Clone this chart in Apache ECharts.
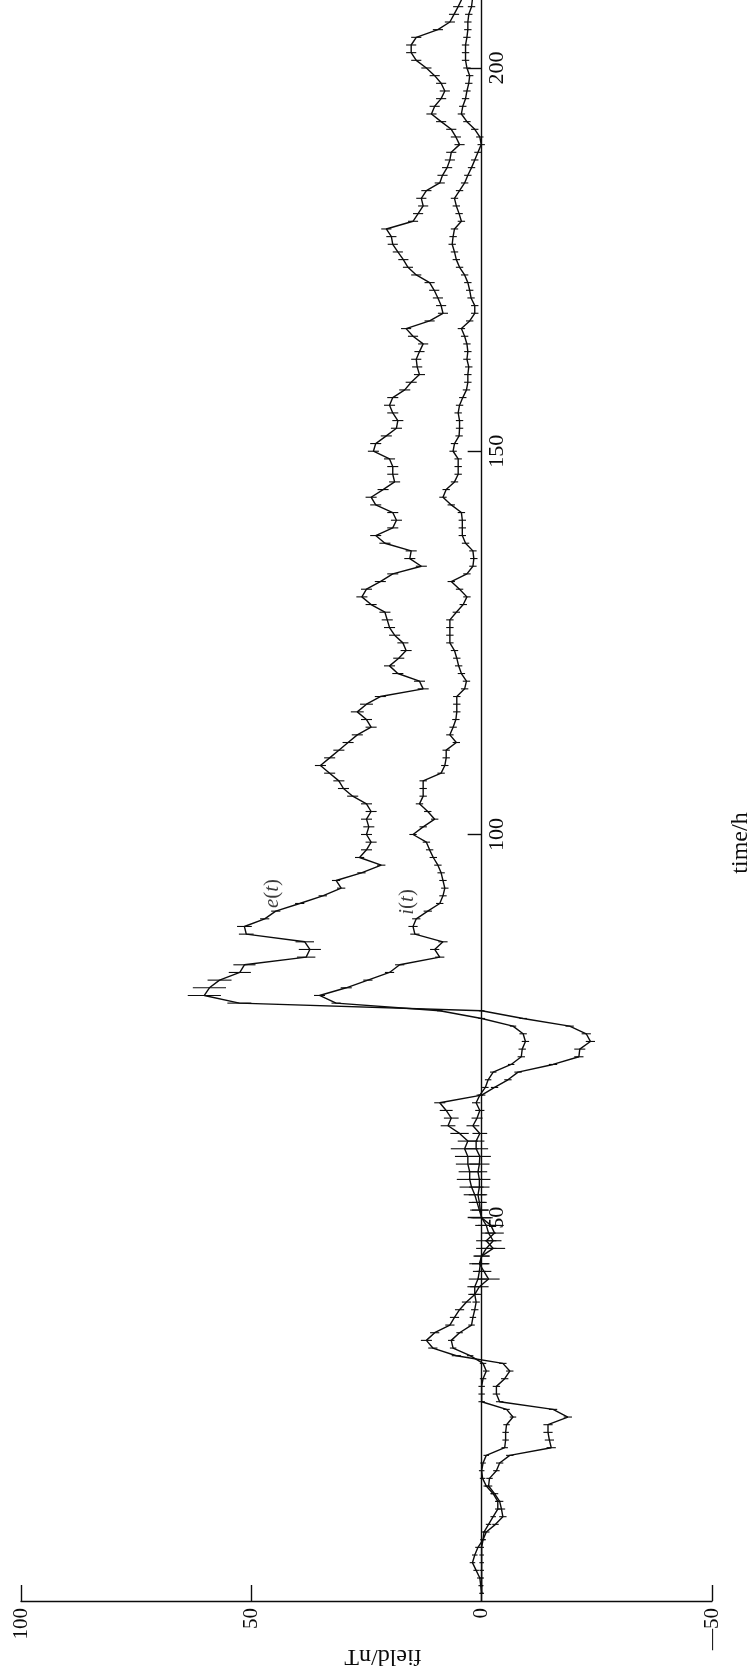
<!DOCTYPE html>
<html>
<head>
<meta charset="utf-8">
<title>e(t) and i(t)</title>
<style>
  html, body { margin: 0; padding: 0; background: #ffffff; }
  #chart { width: 754px; height: 1676px; }
</style>
<script src="https://cdn.jsdelivr.net/npm/echarts@6.0.0/dist/echarts.min.js"></script>
</head>
<body>
<div id="chart"></div>
<script>
// Hourly samples, first one at hour 1.
const startHour = 1;

// External part e(t), nT
const eField = [
  0, 0.2, 0.4, 1.2, 2.0, 1.5, 0.8, -0.3, -1.0, -3.0,
  -4.6, -4.3, -3.9, -2.8, -1.5, -1.7, -3.2, -3.9, -6.1, -15.1,
  -14.7, -14.4, -14.4, -18.7, -15.5, -3.9, -3.2, -3.2, -5.0, -6.1,
  -4.6, 5.5, 10.6, 12.0, 10.2, 6.9, 5.9, 4.8, 3.3, 1.5,
  0.5, -1.5, -0.5, 0.5, 0, -2.5, -1.0, -2.8, -2.0, 0,
  0.5, 1.0, 1.5, 2.2, 2.6, 2.6, 3.0, 3.0, 3.7, 3.0,
  4.8, 7.3, 6.6, 7.7, 9.1, 0, -2.8, -5.7, -7.9, -15.5,
  -21.1, -21.3, -23.6, -22.7, -19.1, -9.0, 0, 52.6, 60.2, 59.1,
  56.9, 52.5, 51.5, 38.1, 37.3, 38.4, 51.1, 51.5, 47.1, 44.7,
  39.5, 34.5, 30.5, 31.6, 26.1, 21.8, 26.5, 25.0, 24.0, 25.0,
  24.5, 25.0, 24.0, 25.0, 28.0, 30.0, 31.0, 33.0, 35.0, 33.0,
  31.0, 29.0, 27.0, 24.0, 25.0, 27.0, 25.0, 22.0, 12.7, 13.5,
  18.2, 20.0, 18.0, 16.4, 17.1, 18.9, 20.0, 20.5, 21.0, 24.0,
  26.0, 25.0, 22.0, 19.3, 13.1, 15.6, 15.3, 21.0, 23.0, 19.3,
  18.5, 19.3, 23.0, 24.0, 21.4, 18.9, 19.3, 19.3, 20.0, 23.5,
  23.0, 20.7, 18.5, 18.2, 19.3, 20.0, 19.3, 16.7, 15.3, 13.5,
  14.0, 14.2, 13.5, 12.7, 14.9, 16.4, 11.3, 8.4, 8.8, 9.5,
  10.3, 11.3, 14.2, 16.0, 17.0, 18.2, 19.3, 19.6, 20.7, 14.9,
  13.8, 12.7, 13.1, 12.0, 9.1, 8.5, 7.5, 6.9, 6.6, 4.8,
  5.6, 6.6, 8.8, 10.9, 10.2, 8.8, 8.0, 8.8, 10.2, 12.0,
  14.2, 15.3, 15.3, 14.2, 9.5, 6.9, 6.0, 5.1, 4.3
];

// Internal part i(t), nT
const iField = [
  0, 0, 0, 0, 0, 0, 0, -0.3, -0.5, -1.5,
  -2.5, -3.5, -3.5, -2.5, -1.0, -0.2, 0, -0.3, -1.0, -5.0,
  -5.2, -5.2, -5.4, -6.8, -5.4, 0, 0, 0, -0.3, -1.0,
  -0.3, 2.5, 6.2, 6.6, 4.8, 2.2, 1.9, 1.5, 1.2, 1.5,
  1.5, 0.8, 0.5, 0.3, 0, -1.0, -2.5, -1.5, -1.0, 0,
  0.3, 0.5, 0.8, 0.5, 0.5, 0.8, 0.5, 0.4, 1.2, 1.2,
  0.4, 1.9, 1.0, 0.4, 1.2, 0.4, -0.8, -1.4, -2.5, -6.4,
  -8.6, -8.8, -9.5, -9.0, -6.8, 0, 9.1, 31.6, 35.2, 29.4,
  24.7, 20.0, 17.8, 9.1, 10.2, 8.4, 14.5, 14.9, 14.2, 11.7,
  9.1, 8.4, 8.0, 8.4, 8.8, 9.5, 10.5, 11.3, 12.0, 14.9,
  12.7, 10.2, 11.7, 13.5, 12.7, 12.7, 12.7, 8.8, 8.0, 7.7,
  7.7, 5.5, 6.9, 6.2, 5.6, 5.4, 5.4, 5.4, 3.7, 3.3,
  4.4, 5.0, 5.4, 5.9, 6.9, 6.9, 6.9, 6.9, 5.5, 4.0,
  3.2, 4.8, 6.6, 3.2, 1.9, 1.7, 1.9, 3.5, 4.2, 4.2,
  4.2, 4.4, 6.6, 8.4, 7.7, 5.9, 5.1, 5.1, 5.1, 6.2,
  5.9, 4.9, 4.8, 4.8, 5.1, 4.8, 4.1, 3.3, 3.0, 3.0,
  2.8, 3.2, 3.0, 3.2, 3.7, 4.4, 2.6, 1.5, 1.5, 2.3,
  2.6, 3.0, 3.7, 4.8, 5.5, 5.9, 6.4, 6.2, 5.9, 4.4,
  4.9, 5.5, 5.9, 4.8, 3.7, 3.0, 2.2, 1.5, 0.8, 0.1,
  0.4, 1.5, 3.2, 4.4, 4.1, 3.5, 3.2, 2.8, 2.6, 3.2,
  3.5, 3.5, 3.5, 3.2, 3.0, 3.0, 2.8, 2.2, 2.0
];

// Half-width of the uncertainty bar at each hour, nT
const eErr = [
  0.5, 0.5, 0.6, 0.6, 0.6, 0.6, 0.6, 0.6, 0.7, 0.7,
  0.8, 0.8, 0.8, 0.8, 0.8, 0.7, 0.7, 0.8, 0.8, 1.0,
  1.0, 1.0, 1.0, 0.9, 0.9, 0.8, 0.8, 0.8, 0.8, 0.8,
  0.8, 1.0, 1.0, 1.2, 1.0, 1.0, 1.0, 1.0, 1.0, 1.4,
  2.0, 2.4, 1.6, 2.2, 1.8, 2.6, 2.2, 2.0, 2.8, 2.4,
  2.0, 1.8, 2.4, 2.6, 2.8, 2.4, 2.6, 2.8, 3.0, 2.2,
  2.0, 1.6, 1.6, 1.4, 1.2, 0.8, 0.8, 0.8, 0.8, 0.9,
  1.0, 1.2, 1.0, 1.0, 0.9, 0.8, 0.6, 2.6, 3.6, 3.6,
  2.6, 2.4, 2.4, 2.0, 2.4, 2.0, 1.6, 1.6, 1.0, 1.0,
  1.0, 0.9, 0.9, 0.9, 0.9, 0.9, 1.0, 1.2, 1.2, 1.2,
  1.2, 1.2, 1.2, 1.2, 1.2, 1.2, 1.2, 1.2, 1.2, 1.2,
  1.2, 1.2, 1.2, 1.2, 1.2, 1.4, 1.4, 1.2, 1.2, 1.2,
  1.2, 1.2, 1.2, 1.2, 1.2, 1.2, 1.2, 1.2, 1.2, 1.2,
  1.2, 1.2, 1.2, 1.2, 1.2, 1.2, 1.2, 1.2, 1.2, 1.2,
  1.2, 1.2, 1.2, 1.2, 1.2, 1.2, 1.2, 1.2, 1.2, 1.2,
  1.2, 1.2, 1.2, 1.2, 1.2, 1.2, 1.2, 1.2, 1.2, 1.2,
  1.1, 1.1, 1.1, 1.1, 1.1, 1.1, 1.1, 1.1, 1.1, 1.1,
  1.1, 1.1, 1.1, 1.1, 1.1, 1.1, 1.1, 1.1, 1.1, 1.1,
  1.1, 1.1, 1.1, 1.1, 1.1, 1.1, 1.1, 1.1, 1.1, 1.1,
  1.1, 1.1, 1.1, 1.1, 1.1, 1.1, 1.1, 1.1, 1.1, 1.1,
  1.1, 1.1, 1.1, 1.1, 1.1, 1.1, 1.1, 1.1, 1.1
];

const iErr = [
  0.4, 0.4, 0.5, 0.5, 0.5, 0.5, 0.5, 0.5, 0.5, 0.6,
  0.6, 0.6, 0.6, 0.6, 0.6, 0.6, 0.6, 0.6, 0.6, 0.7,
  0.7, 0.7, 0.7, 0.7, 0.7, 0.7, 0.7, 0.7, 0.7, 0.7,
  0.7, 0.7, 0.7, 0.7, 0.7, 0.7, 0.7, 0.8, 0.8, 1.0,
  1.6, 2.0, 1.4, 1.8, 1.6, 2.2, 1.8, 1.6, 2.4, 2.0,
  1.8, 1.6, 2.0, 2.2, 2.4, 2.0, 2.2, 2.4, 2.6, 1.8,
  1.6, 1.4, 1.2, 1.0, 0.9, 0.7, 0.7, 0.7, 0.7, 0.7,
  0.8, 0.8, 0.8, 0.8, 0.7, 0.7, 0.6, 1.0, 1.2, 1.2,
  1.0, 1.0, 1.0, 1.0, 1.0, 1.0, 1.0, 1.0, 0.9, 0.9,
  0.8, 0.8, 0.8, 0.8, 0.8, 0.8, 0.8, 0.8, 0.8, 0.8,
  0.8, 0.8, 0.8, 0.8, 0.8, 0.8, 0.8, 0.8, 0.8, 0.8,
  0.8, 0.8, 0.8, 0.8, 0.8, 0.8, 0.8, 0.8, 0.8, 0.8,
  0.8, 0.8, 0.8, 0.8, 0.8, 0.8, 0.8, 0.8, 0.8, 0.8,
  0.8, 0.8, 0.8, 0.8, 0.8, 0.8, 0.8, 0.8, 0.8, 0.8,
  0.8, 0.8, 0.8, 0.8, 0.8, 0.8, 0.8, 0.8, 0.8, 0.8,
  0.8, 0.8, 0.8, 0.8, 0.8, 0.8, 0.8, 0.8, 0.8, 0.8,
  0.8, 0.8, 0.8, 0.8, 0.8, 0.8, 0.8, 0.8, 0.8, 0.8,
  0.8, 0.8, 0.8, 0.8, 0.8, 0.8, 0.8, 0.8, 0.8, 0.8,
  0.8, 0.8, 0.8, 0.8, 0.8, 0.8, 0.8, 0.8, 0.8, 0.8,
  0.8, 0.8, 0.8, 0.8, 0.8, 0.8, 0.8, 0.8, 0.8, 0.8,
  0.8, 0.8, 0.8, 0.8, 0.8, 0.8, 0.8, 0.8, 0.8
];

// Axis ranges, ticks and their printed text
const fieldMin = -50, fieldMax = 100;
const timeMin = 0, timeMax = 209;
const fieldTicks = [-50, 0, 50, 100];
const fieldTickText = ['\u201450', '0', '50', '100'];
const timeTicks = [50, 100, 150, 200];
const timeTickText = ['50', '100', '150', '200'];

// Curve names and where they are written (field, hour)
const curveNames = ['e', 'i'];
const curveNameSpots = [[45.4, 92.3], [16.0, 91.2]];

const INK = '#0c0c0c';
const SERIF = '"Liberation Serif", "DejaVu Serif", serif';

// Plot box in pixels
const W = 754, H = 1676;
const GRID = { left: 21, right: 42, top: -1, bottom: 75 };
const plotWidth = W - GRID.left - GRID.right;
// The field axis runs right-to-left, so field = 0 sits this far in from the right edge;
// the time axis is drawn there.
const zeroFromRight = plotWidth * (0 - fieldMin) / (fieldMax - fieldMin);

function hourOf(k) { return startHour + k; }

function linePoints(values) {
  return values.map((v, k) => [v, hourOf(k)]);
}

function barPoints(values, errs) {
  return values.map((v, k) => [v, hourOf(k), errs[k]]);
}

function renderBar(params, api) {
  const f = api.value(0), t = api.value(1), d = api.value(2);
  const a = api.coord([f - d, t]);
  const b = api.coord([f + d, t]);
  return {
    type: 'line',
    shape: { x1: a[0], y1: a[1], x2: b[0], y2: b[1] },
    style: { stroke: INK, lineWidth: 1.1 }
  };
}

function curveLine(values) {
  return {
    type: 'line',
    data: linePoints(values),
    showSymbol: false,
    symbol: 'none',
    lineStyle: { color: INK, width: 1.4 },
    animation: false,
    z: 3
  };
}

function curveBars(values, errs) {
  return {
    type: 'custom',
    renderItem: renderBar,
    data: barPoints(values, errs),
    encode: { x: 0, y: 1 },
    animation: false,
    z: 4
  };
}

const chart = echarts.init(document.getElementById('chart'), null, { renderer: 'canvas' });

chart.setOption({
  backgroundColor: '#ffffff',
  animation: false,
  grid: {
    left: GRID.left, right: GRID.right, top: GRID.top, bottom: GRID.bottom,
    containLabel: false,
    outerBoundsMode: 'none'
  },
  xAxis: {
    type: 'value',
    min: fieldMin, max: fieldMax, interval: 50,
    inverse: true,
    position: 'bottom',
    axisLine: { onZero: false, lineStyle: { color: INK, width: 1.4 } },
    axisTick: { inside: true, length: 16, lineStyle: { color: INK, width: 1.4 } },
    splitLine: { show: false },
    axisLabel: {
      rotate: 90, margin: 7,
      fontFamily: SERIF, fontSize: 21, color: INK,
      formatter: v => {
        const k = fieldTicks.indexOf(v);
        return k < 0 ? '' : fieldTickText[k];
      }
    }
  },
  yAxis: {
    type: 'value',
    min: timeMin, max: timeMax, interval: 50,
    position: 'right',
    offset: -zeroFromRight,
    axisLine: { onZero: false, lineStyle: { color: INK, width: 1.4 } },
    axisTick: { inside: true, length: 14, lineStyle: { color: INK, width: 1.4 } },
    splitLine: { show: false },
    axisLabel: {
      rotate: 90, margin: 5,
      showMinLabel: false, showMaxLabel: false,
      fontFamily: SERIF, fontSize: 22, color: INK,
      formatter: v => {
        const k = timeTicks.indexOf(v);
        return k < 0 ? '' : timeTickText[k];
      }
    }
  },
  graphic: [
    {
      type: 'text', x: 741, y: 843, rotation: Math.PI / 2,
      style: { text: 'time/h', font: '24px ' + SERIF, fill: INK, align: 'center', verticalAlign: 'middle' }
    },
    {
      type: 'text', x: 383, y: 1656, rotation: Math.PI,
      style: { text: 'field/nT', font: '24px ' + SERIF, fill: INK, align: 'center', verticalAlign: 'middle' }
    }
  ],
  series: [
    curveLine(eField),
    curveLine(iField),
    curveBars(eField, eErr),
    curveBars(iField, iErr),
    {
      type: 'scatter',
      symbolSize: 0,
      animation: false,
      data: curveNameSpots.map((p, k) => ({ value: p, name: curveNames[k] })),
      label: {
        show: true,
        position: 'inside',
        rotate: 90,
        color: INK,
        fontFamily: SERIF,
        fontSize: 21,
        formatter: p => '{it|' + p.name + '}({it|t})',
        rich: {
          it: { fontStyle: 'italic', fontFamily: SERIF, fontSize: 21, color: INK }
        }
      },
      z: 5
    }
  ]
});
</script>
</body>
</html>
